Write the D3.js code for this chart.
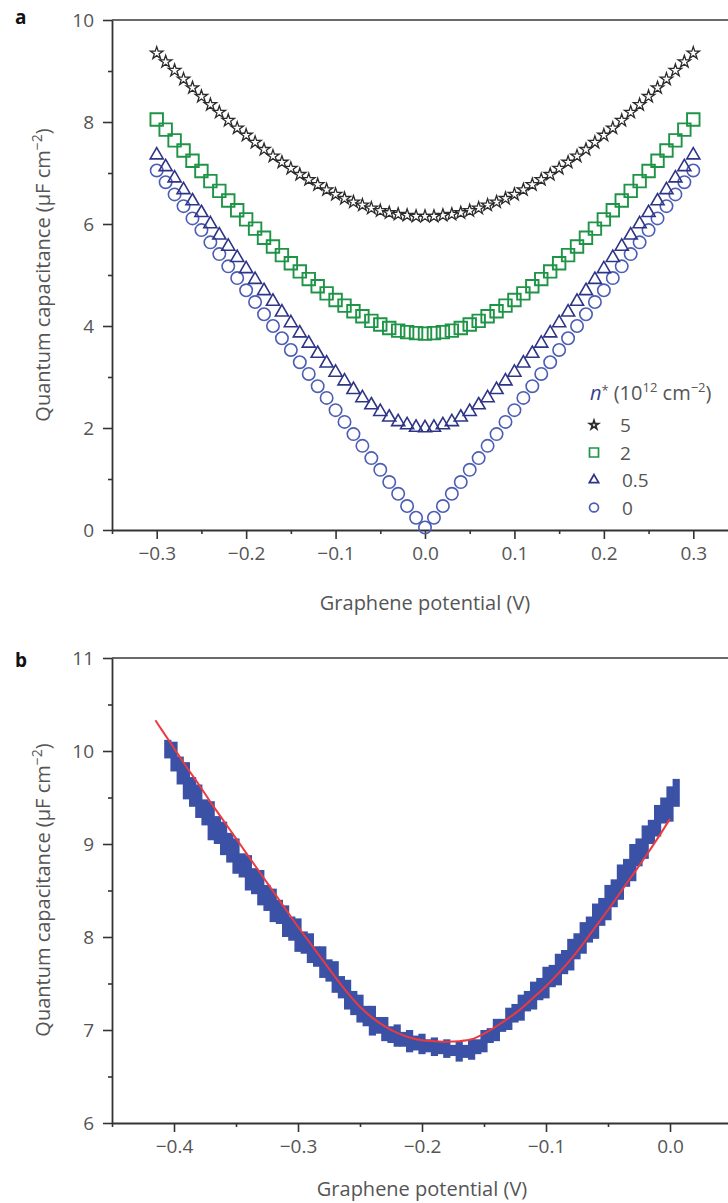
<!DOCTYPE html>
<html>
<head>
<meta charset="utf-8">
<script src="https://cdn.jsdelivr.net/npm/d3@7"></script>
<style>
  body { margin: 0; background: #fff; }
  svg { display: block; }
  text { font-family: "Open Sans", "Noto Sans", sans-serif; fill: #555; }
</style>
</head>
<body>
<svg id="chart" width="728" height="1203"></svg>
<script>
// ---------- Panel a: modelled quantum capacitance vs potential ----------
const potentialA = [-0.30,-0.29,-0.28,-0.27,-0.26,-0.25,-0.24,-0.23,-0.22,-0.21,-0.20,-0.19,-0.18,-0.17,-0.16,-0.15,-0.14,-0.13,-0.12,-0.11,-0.10,-0.09,-0.08,-0.07,-0.06,-0.05,-0.04,-0.03,-0.02,-0.01,0.00,0.01,0.02,0.03,0.04,0.05,0.06,0.07,0.08,0.09,0.10,0.11,0.12,0.13,0.14,0.15,0.16,0.17,0.18,0.19,0.20,0.21,0.22,0.23,0.24,0.25,0.26,0.27,0.28,0.29,0.30];

// n* = 5 x 10^12 cm^-2
const cqN5 = [9.35,9.18,9.01,8.84,8.67,8.50,8.34,8.19,8.03,7.88,7.74,7.60,7.46,7.33,7.21,7.09,6.97,6.87,6.77,6.67,6.58,6.50,6.43,6.37,6.31,6.26,6.22,6.19,6.17,6.15,6.15,6.15,6.17,6.19,6.22,6.26,6.31,6.37,6.43,6.50,6.58,6.67,6.77,6.87,6.97,7.09,7.21,7.33,7.46,7.60,7.74,7.88,8.03,8.19,8.34,8.50,8.67,8.84,9.01,9.18,9.35];
// n* = 2
const cqN2 = [8.05,7.85,7.64,7.44,7.24,7.04,6.84,6.65,6.46,6.27,6.09,5.91,5.73,5.56,5.39,5.23,5.07,4.92,4.78,4.64,4.51,4.40,4.29,4.19,4.10,4.03,3.96,3.91,3.88,3.86,3.85,3.86,3.88,3.91,3.96,4.03,4.10,4.19,4.29,4.40,4.51,4.64,4.78,4.92,5.07,5.23,5.39,5.56,5.73,5.91,6.09,6.27,6.46,6.65,6.84,7.04,7.24,7.44,7.64,7.85,8.05];
// n* = 0.5
const cqN05 = [7.35,7.12,6.90,6.67,6.45,6.22,6.00,5.78,5.56,5.34,5.12,4.91,4.69,4.48,4.27,4.06,3.86,3.66,3.46,3.27,3.09,2.92,2.75,2.59,2.45,2.32,2.21,2.12,2.06,2.01,2.00,2.01,2.06,2.12,2.21,2.32,2.45,2.59,2.75,2.92,3.09,3.27,3.46,3.66,3.86,4.06,4.27,4.48,4.69,4.91,5.12,5.34,5.56,5.78,6.00,6.22,6.45,6.67,6.90,7.12,7.35];
// n* = 0
const cqN0 = [7.05,6.82,6.58,6.35,6.11,5.88,5.64,5.41,5.17,4.94,4.70,4.47,4.23,4.00,3.76,3.53,3.29,3.06,2.82,2.59,2.35,2.12,1.88,1.65,1.41,1.18,0.94,0.71,0.47,0.24,0.05,0.24,0.47,0.71,0.94,1.18,1.41,1.65,1.88,2.12,2.35,2.59,2.82,3.06,3.29,3.53,3.76,4.00,4.23,4.47,4.70,4.94,5.17,5.41,5.64,5.88,6.11,6.35,6.58,6.82,7.05];

const legendLabels = ["5", "2", "0.5", "0"];
const xTicksA = [-0.3, -0.2, -0.1, 0.0, 0.1, 0.2, 0.3];
const yTicksA = [0, 2, 4, 6, 8, 10];

// ---------- Panel b: measured quantum capacitance and fit ----------
const potentialB = [-0.405,-0.400,-0.395,-0.390,-0.385,-0.380,-0.375,-0.370,-0.365,-0.360,-0.355,-0.350,-0.345,-0.340,-0.335,-0.330,-0.325,-0.320,-0.315,-0.310,-0.305,-0.300,-0.295,-0.290,-0.285,-0.280,-0.275,-0.270,-0.265,-0.260,-0.255,-0.250,-0.245,-0.240,-0.235,-0.230,-0.225,-0.220,-0.215,-0.210,-0.205,-0.200,-0.195,-0.190,-0.185,-0.180,-0.175,-0.170,-0.165,-0.160,-0.155,-0.150,-0.145,-0.140,-0.135,-0.130,-0.125,-0.120,-0.115,-0.110,-0.105,-0.100,-0.095,-0.090,-0.085,-0.080,-0.075,-0.070,-0.065,-0.060,-0.055,-0.050,-0.045,-0.040,-0.035,-0.030,-0.025,-0.020,-0.015,-0.010,-0.005,0.000,0.005];
// spread of the measured points in each potential bin
const measLow = [9.92,9.78,9.64,9.48,9.40,9.28,9.20,9.04,9.00,8.88,8.80,8.68,8.64,8.50,8.46,8.34,8.28,8.16,8.14,8.00,7.96,7.84,7.82,7.72,7.68,7.56,7.52,7.40,7.34,7.22,7.16,7.08,7.04,6.94,6.96,6.88,6.86,6.82,6.82,6.76,6.78,6.74,6.76,6.72,6.74,6.70,6.72,6.66,6.70,6.68,6.74,6.76,6.86,6.88,6.98,7.00,7.08,7.10,7.20,7.22,7.32,7.34,7.46,7.48,7.60,7.64,7.76,7.82,7.94,7.98,8.12,8.18,8.32,8.40,8.54,8.60,8.76,8.84,9.00,9.08,9.22,9.24,9.40];
const measHigh = [10.12,10.10,9.94,9.88,9.72,9.64,9.48,9.46,9.30,9.24,9.12,9.06,8.90,8.88,8.74,8.72,8.56,8.52,8.40,8.34,8.22,8.20,8.06,8.04,7.90,7.90,7.76,7.74,7.58,7.54,7.42,7.38,7.26,7.26,7.14,7.14,7.04,7.06,6.98,7.00,6.94,6.96,6.90,6.92,6.88,6.90,6.84,6.88,6.84,6.90,6.90,7.00,7.02,7.12,7.12,7.24,7.28,7.38,7.42,7.52,7.56,7.68,7.70,7.82,7.86,7.98,8.04,8.16,8.22,8.36,8.42,8.56,8.62,8.78,8.84,9.00,9.06,9.20,9.26,9.42,9.50,9.62,9.70];

const fitV = [-0.415,-0.41,-0.40,-0.39,-0.38,-0.37,-0.36,-0.35,-0.34,-0.33,-0.32,-0.31,-0.30,-0.29,-0.28,-0.27,-0.26,-0.25,-0.24,-0.23,-0.22,-0.21,-0.20,-0.19,-0.18,-0.17,-0.16,-0.15,-0.14,-0.13,-0.12,-0.11,-0.10,-0.09,-0.08,-0.07,-0.06,-0.05,-0.04,-0.03,-0.02,-0.01,0.00];
const fitC = [10.33,10.23,10.03,9.83,9.64,9.44,9.25,9.06,8.87,8.68,8.49,8.30,8.11,7.93,7.75,7.57,7.40,7.25,7.13,7.04,6.97,6.92,6.89,6.88,6.875,6.88,6.90,6.96,7.04,7.13,7.23,7.35,7.47,7.61,7.76,7.93,8.11,8.29,8.48,8.67,8.86,9.06,9.27];

const xTicksB = [-0.4, -0.3, -0.2, -0.1, 0.0];
const yTicksB = [6, 7, 8, 9, 10, 11];

// ---------- drawing ----------
const svg = d3.select("#chart");
const fmt1 = d3.format(".1f");
const TICK = 9, MINOR = 4, FS = 19, TITLE_FS = 20;

function drawAxes(g, x, y, xTicks, yTicks, xMinor, yMinor, yTitleMid, xTitleY) {
  const [x0, x1] = x.range();
  const [yb, yt] = y.range();

  // top frame line
  g.append("line").attr("x1", x0).attr("x2", x1).attr("y1", yt).attr("y2", yt)
    .attr("stroke", "#6a6a6a").attr("stroke-width", 1.8);

  // bottom axis
  const bx = g.append("g").attr("transform", `translate(0,${yb})`)
    .call(d3.axisBottom(x).tickValues(xTicks).tickFormat(fmt1).tickSize(TICK).tickSizeOuter(0).tickPadding(8));
  bx.append("g").call(d3.axisBottom(x).tickValues(xMinor).tickFormat("").tickSize(MINOR).tickSizeOuter(0))
    .select(".domain").remove();

  // left axis
  const ly = g.append("g").attr("transform", `translate(${x0},0)`)
    .call(d3.axisLeft(y).tickValues(yTicks).tickFormat(d3.format("d")).tickSize(TICK).tickSizeOuter(0).tickPadding(9));
  ly.append("g").call(d3.axisLeft(y).tickValues(yMinor).tickFormat("").tickSize(MINOR).tickSizeOuter(0))
    .select(".domain").remove();

  g.selectAll(".domain").attr("stroke", "#333").attr("stroke-width", 1.8);
  g.selectAll(".tick line").attr("stroke", "#333").attr("stroke-width", 1.6);
  g.selectAll(".tick text").attr("font-size", FS).attr("fill", "#555")
    .attr("font-family", '"Open Sans", sans-serif');

  // axis titles
  g.append("text").attr("x", (x0 + x1) / 2).attr("y", xTitleY)
    .attr("text-anchor", "middle").attr("font-size", TITLE_FS).text("Graphene potential (V)");

  const yt2 = g.append("text").attr("transform", `translate(50,${yTitleMid}) rotate(-90)`)
    .attr("text-anchor", "middle").attr("font-size", TITLE_FS);
  yt2.append("tspan").text("Quantum capacitance (μF cm");
  yt2.append("tspan").attr("dy", -8).attr("font-size", 14).text("−2");
  yt2.append("tspan").attr("dy", 8).text(")");
}

// ----- panel a -----
const xA = d3.scaleLinear([-0.35, 0.35], [112, 738]);
const yA = d3.scaleLinear([0, 10], [530, 20]);
const gA = svg.append("g");
drawAxes(gA, xA, yA, xTicksA, yTicksA,
  [-0.35, -0.25, -0.15, -0.05, 0.05, 0.15, 0.25, 0.35], [1, 3, 5, 7, 9], 275, 610);

gA.append("text").attr("x", 15).attr("y", 24).attr("font-size", 19).attr("font-weight", "bold")
  .style("fill", "#111").attr("font-family", '"Liberation Sans", Arial, sans-serif').text("a");

const seriesA = [
  { values: cqN0,  shape: "circle",   color: "#4b5db5", size: 6.2, sw: 1.6 },
  { values: cqN05, shape: "triangle", color: "#2e3486", size: 74,  sw: 1.6 },
  { values: cqN2,  shape: "square",   color: "#1f9447", size: 156, sw: 1.9 },
  { values: cqN5,  shape: "star",     color: "#2b2b2b", size: 48,  sw: 1.3 }
];

function addMarker(sel, s, scale) {
  if (s.shape === "circle") {
    sel.append("circle").attr("r", s.size * scale);
  } else {
    const type = s.shape === "triangle" ? d3.symbolTriangle : s.shape === "square" ? d3.symbolSquare : d3.symbolStar;
    sel.append("path").attr("d", d3.symbol(type, s.size * scale * scale)());
  }
}

seriesA.forEach(s => {
  const g = gA.append("g").attr("fill", "none").attr("stroke", s.color).attr("stroke-width", s.sw);
  potentialA.forEach((v, i) => {
    const m = g.append("g").attr("transform", `translate(${xA(v)},${yA(s.values[i])})`);
    addMarker(m, s, 1);
  });
});

// legend
const lg = gA.append("g").attr("transform", "translate(590,0)");
const lt = lg.append("text").attr("x", 0).attr("y", 400).attr("font-size", 20);
lt.append("tspan").attr("font-style", "italic").style("fill", "#3a3f8c").text("n");
lt.append("tspan").attr("dy", -5).attr("font-size", 13).text("*");
lt.append("tspan").attr("dy", 5).attr("dx", 5).text("(10");
lt.append("tspan").attr("dy", -8).attr("font-size", 13).text("12");
lt.append("tspan").attr("dy", 8).text(" cm");
lt.append("tspan").attr("dy", -8).attr("font-size", 13).text("−2");
lt.append("tspan").attr("dy", 8).text(")");

const legendOrder = [seriesA[3], seriesA[2], seriesA[1], seriesA[0]];
legendOrder.forEach((s, i) => {
  const yy = 425 + i * 27.5;
  const m = lg.append("g").attr("transform", `translate(4,${yy})`)
    .attr("fill", "none").attr("stroke", s.color).attr("stroke-width", 1.7);
  addMarker(m, s, 0.72);
  lg.append("text").attr("x", 30 + (i >= 2 ? 2 : 0)).attr("y", yy + 7).attr("font-size", 19).text(legendLabels[i]);
});

// ----- panel b -----
const xB = d3.scaleLinear([-0.45, 0.05], [112, 732]);
const yB = d3.scaleLinear([6, 11], [1123, 658]);
const gB = svg.append("g");
drawAxes(gB, xB, yB, xTicksB, yTicksB,
  [-0.45, -0.35, -0.25, -0.15, -0.05], [6.5, 7.5, 8.5, 9.5, 10.5], 890, 1196);

gB.append("text").attr("x", 15).attr("y", 667).attr("font-size", 19).attr("font-weight", "bold")
  .style("fill", "#111").attr("font-family", '"Liberation Sans", Arial, sans-serif').text("b");

const binW = xB(potentialB[1]) - xB(potentialB[0]);
gB.append("g").attr("fill", "#3a51a6")
  .selectAll("rect").data(potentialB).join("rect")
  .attr("x", (d) => xB(d) - binW / 2 - 0.5)
  .attr("width", binW + 1)
  .attr("y", (d, i) => yB(measHigh[i]))
  .attr("height", (d, i) => yB(measLow[i]) - yB(measHigh[i]));

const fitLine = d3.line().x((d) => xB(d)).y((d, i) => yB(fitC[i])).curve(d3.curveCatmullRom);
gB.append("path").attr("d", fitLine(fitV)).attr("fill", "none")
  .attr("stroke", "#ec3a40").attr("stroke-width", 2);
</script>
</body>
</html>
